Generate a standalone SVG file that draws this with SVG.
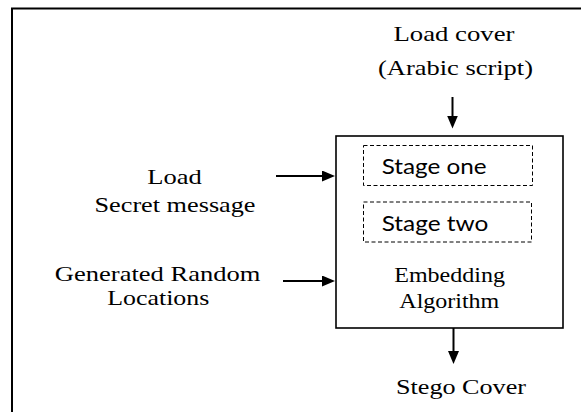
<svg xmlns="http://www.w3.org/2000/svg" width="581" height="412" viewBox="0 0 581 412">
<defs>
<style>
.serif{font-family:"Liberation Serif","Times New Roman",serif;font-size:22px;fill:#000;text-anchor:middle}
.sans{font-family:Lato,"Liberation Sans",sans-serif;font-size:21px;fill:#000}
.box{fill:#fff;stroke:#000;stroke-width:1.6}
.dash{fill:none;stroke:#000;stroke-width:1;stroke-dasharray:4 2.5}
.conn{stroke:#000;stroke-width:2;fill:none;marker-end:url(#ah)}
</style>
<marker id="ah" markerUnits="userSpaceOnUse" markerWidth="14" markerHeight="12" refX="2" refY="5.5" orient="auto">
<path d="M0,0 L13,5.5 L0,11 z" fill="#000"/>
</marker>
</defs>
<rect x="0" y="0" width="581" height="412" fill="#fff"/>
<rect id="frame" x="12" y="8.5" width="620" height="450" fill="none" stroke="#000" stroke-width="2"/>
<g id="cover-label">
<text class="serif" x="454" y="41" textLength="121" lengthAdjust="spacingAndGlyphs">Load cover</text>
<text class="serif" x="455.5" y="75" textLength="155" lengthAdjust="spacingAndGlyphs">(Arabic script)</text>
</g>
<g id="secret-label">
<text class="serif" x="174.6" y="184" textLength="54.5" lengthAdjust="spacingAndGlyphs">Load</text>
<text class="serif" x="175" y="212" textLength="161" lengthAdjust="spacingAndGlyphs">Secret message</text>
</g>
<g id="random-label">
<text class="serif" x="157.6" y="281" textLength="205.6" lengthAdjust="spacingAndGlyphs">Generated Random</text>
<text class="serif" x="158.3" y="305" textLength="102" lengthAdjust="spacingAndGlyphs">Locations</text>
</g>
<g id="embedding">
<rect class="box" x="336" y="136" width="227" height="192"/>
<text class="serif" x="449.6" y="282" textLength="110.7" lengthAdjust="spacingAndGlyphs">Embedding</text>
<text class="serif" x="449.3" y="308" textLength="100" lengthAdjust="spacingAndGlyphs">Algorithm</text>
</g>
<g id="stage-one">
<rect class="dash" x="363.5" y="145.5" width="169" height="40"/>
<text class="sans" x="381.7" y="174" textLength="105" lengthAdjust="spacingAndGlyphs">Stage one</text>
</g>
<g id="stage-two">
<rect class="dash" x="363.5" y="202" width="168" height="40"/>
<text class="sans" x="381.7" y="231" textLength="106.6" lengthAdjust="spacingAndGlyphs">Stage two</text>
</g>
<g id="stego-label">
<text class="serif" x="461" y="394" textLength="130" lengthAdjust="spacingAndGlyphs">Stego Cover</text>
</g>
<g id="connectors">
<line class="conn" x1="452.5" y1="97" x2="452.5" y2="117.5"/>
<line class="conn" x1="276" y1="176" x2="324" y2="176"/>
<line class="conn" x1="283" y1="281" x2="324" y2="281"/>
<line class="conn" x1="453.5" y1="328" x2="453.5" y2="353"/>
</g>
</svg>
